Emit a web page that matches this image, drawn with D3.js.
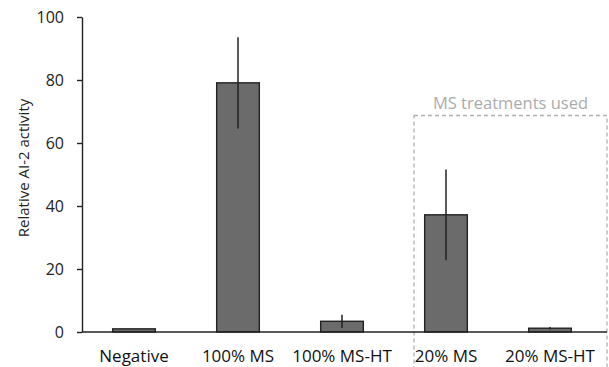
<!DOCTYPE html>
<html>
<head>
<meta charset="utf-8">
<script src="https://cdn.jsdelivr.net/npm/d3@7"></script>
<style>
  body { margin: 0; background: #fff; }
  text { font-family: "Open Sans", sans-serif; }
</style>
</head>
<body>
<div id="chart"></div>
<script>
const categories = ["Negative", "100% MS", "100% MS-HT", "20% MS", "20% MS-HT"];
const values = [1.0, 79.1, 3.4, 37.2, 1.2];
const errors = [0, 14.5, 2.1, 14.4, 0.4];
const yTicks = [0, 20, 40, 60, 80, 100];
const boxedCategories = ["20% MS", "20% MS-HT"];
const boxLabel = "MS treatments used";

const width = 609, height = 367;
const margin = {top: 17, right: 7, bottom: 35, left: 82};

const svg = d3.select("#chart").append("svg")
    .attr("width", width)
    .attr("height", height);

const x = d3.scaleBand()
    .domain(categories)
    .range([margin.left, 602])
    .padding(0);

const y = d3.scaleLinear()
    .domain([0, 100])
    .range([height - margin.bottom, margin.top]);

const barW = x.bandwidth() * 0.41;

// dashed box around the MS treatments
const bx0 = x(boxedCategories[0]) + 20;
const bx1 = x(boxedCategories[1]) + x.bandwidth() + 5;
svg.append("rect")
    .attr("x", bx0)
    .attr("y", 115.5)
    .attr("width", bx1 - bx0)
    .attr("height", 260)
    .attr("fill", "none")
    .attr("stroke", "#b0b0b0")
    .attr("stroke-width", 1.3)
    .attr("stroke-dasharray", "4,3");

svg.append("text")
    .attr("x", (bx0 + bx1) / 2)
    .attr("y", 109)
    .attr("text-anchor", "middle")
    .attr("font-size", 16.5)
    .attr("fill", "#ababab")
    .text(boxLabel);

// bars
svg.selectAll(".bar")
    .data(categories)
  .enter().append("rect")
    .attr("class", "bar")
    .attr("x", d => x(d) + (x.bandwidth() - barW) / 2)
    .attr("y", (d, i) => y(values[i]))
    .attr("width", barW)
    .attr("height", (d, i) => y(0) - y(values[i]))
    .attr("fill", "#6b6b6b")
    .attr("stroke", "#222")
    .attr("stroke-width", 1.4);

// error bars
svg.selectAll(".err")
    .data(categories)
  .enter().append("line")
    .attr("class", "err")
    .attr("x1", d => x(d) + x.bandwidth() / 2)
    .attr("x2", d => x(d) + x.bandwidth() / 2)
    .attr("y1", (d, i) => y(values[i] + errors[i]))
    .attr("y2", (d, i) => y(Math.max(0, values[i] - errors[i])))
    .attr("stroke", "#222")
    .attr("stroke-width", 1.5);

// y axis
const yAxis = svg.append("g")
    .attr("transform", `translate(${margin.left},0)`)
    .call(d3.axisLeft(y).tickValues(yTicks).tickSize(5).tickPadding(13).tickSizeOuter(0));
yAxis.selectAll("text").attr("font-size", 16).attr("fill", "#222").attr("font-family", "Open Sans");
yAxis.selectAll("line, path").attr("stroke", "#222").attr("stroke-width", 1.4);

// x axis
const xAxis = svg.append("g")
    .attr("transform", `translate(0,${y(0)})`)
    .call(d3.axisBottom(x).tickSize(0).tickSizeOuter(0));
xAxis.select("path").attr("d", `M${margin.left},0H${bx1}`).attr("stroke", "#222").attr("stroke-width", 1.4);
xAxis.selectAll("text")
    .attr("y", 30)
    .attr("dy", 0)
    .attr("font-size", 17)
    .attr("fill", "#111")
    .attr("font-family", "Open Sans");

svg.append("text")
    .attr("transform", "translate(29,168) rotate(-90)")
    .attr("text-anchor", "middle")
    .attr("font-size", 15)
    .attr("fill", "#222")
    .text("Relative AI-2 activity");
</script>
</body>
</html>
